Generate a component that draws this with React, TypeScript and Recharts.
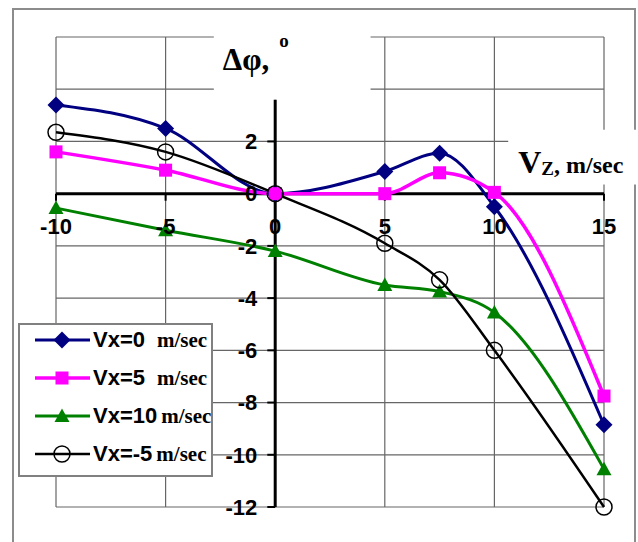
import {
  LineChart,
  Line,
  XAxis,
  YAxis,
  CartesianGrid,
  ReferenceLine,
  ReferenceArea,
  Legend,
} from 'recharts'

// Vz, m/sec
const VZ = [-10, -5, 0, 5, 7.5, 10, 15]
// Δφ, degrees, one list per Vx
const VX0 = [3.4, 2.5, 0, 0.85, 1.55, -0.5, -8.85]
const VX5 = [1.6, 0.9, 0, 0.0, 0.8, 0.05, -7.75]
const VX10 = [-0.55, -1.4, -2.2, -3.5, -3.75, -4.55, -10.55]
const VXM5 = [2.35, 1.6, 0, -1.9, -3.3, -6.0, -12.0]

const X_TICKS = [-10, -5, 0, 5, 10, 15]
const Y_GRID = [-12, -10, -8, -6, -4, -2, 0, 2, 4, 6]
const Y_LABELS = [-12, -10, -8, -6, -4, -2, 0, 2]

const data = VZ.map((vz, i) => ({
  vz,
  vx0: VX0[i],
  vx5: VX5[i],
  vx10: VX10[i],
  vxm5: VXM5[i],
}))

type Shape = 'diamond' | 'square' | 'triangle' | 'circle'

const SERIES: { key: string; name: string; gap: number; color: string; width: number; shape: Shape }[] = [
  { key: 'vx0', name: 'Vx=0', gap: 12, color: '#000080', width: 3, shape: 'diamond' },
  { key: 'vx5', name: 'Vx=5', gap: 12, color: '#ff00ff', width: 3.5, shape: 'square' },
  { key: 'vx10', name: 'Vx=10', gap: 4, color: '#008000', width: 3, shape: 'triangle' },
  { key: 'vxm5', name: 'Vx=-5', gap: 4, color: '#000000', width: 2.5, shape: 'circle' },
]

const SANS = '"Liberation Sans", Arial, sans-serif'
const SERIF = '"Liberation Serif", "Times New Roman", serif'
const tickFont = { fill: '#000', fontSize: 22, fontWeight: 700, fontFamily: SANS }

function Marker({ shape, cx, cy, color }: { shape: Shape; cx: number; cy: number; color: string }) {
  if (shape === 'diamond') {
    const s = 8.5
    return <polygon points={`${cx},${cy - s} ${cx + s},${cy} ${cx},${cy + s} ${cx - s},${cy}`} fill={color} />
  }
  if (shape === 'square') {
    return <rect x={cx - 6.5} y={cy - 6.5} width={13} height={13} fill={color} />
  }
  if (shape === 'triangle') {
    return <polygon points={`${cx},${cy - 7.5} ${cx + 7.5},${cy + 6} ${cx - 7.5},${cy + 6}`} fill={color} />
  }
  return <circle cx={cx} cy={cy} r={8} fill="none" stroke={color} strokeWidth={1.5} />
}

const renderDot = (shape: Shape, color: string) => (p: any) => (
  <Marker key={`${shape}-${p.index}`} shape={shape} cx={p.cx} cy={p.cy} color={color} />
)

// axis ticks are drawn at the origin below, so the side axes render empty ticks
const NoTick = () => <g />

const TitleLabel = ({ viewBox }: any) => {
  const { x, y, height } = viewBox
  return (
    <text x={x + 9} y={y + height - 30} fontFamily={SERIF} fontWeight={700} fontSize={31} fill="#000">
      Δφ,
      <tspan fontSize={19} dx={10} dy={-23}>
        o
      </tspan>
    </text>
  )
}

const AxisTitle = ({ viewBox }: any) => {
  const { x, y } = viewBox
  return (
    <text x={x + 10} y={y + 43} fontFamily={SERIF} fontWeight={700} fill="#000">
      <tspan fontSize={32}>V</tspan>
      <tspan fontSize={19} dy={2}>Z</tspan>
      <tspan fontSize={24} dy={-2}>, m/sec</tspan>
    </text>
  )
}

const renderLegend = () => (
  <div
    style={{
      position: 'relative',
      width: 195,
      height: 154,
      boxSizing: 'border-box',
      border: '2px solid #808080',
      background: '#fff',
    }}
  >
    {SERIES.map((s, i) => (
      <div
        key={s.key}
        style={{
          position: 'absolute',
          left: 0,
          top: -4 + i * 38,
          height: 38,
          display: 'flex',
          alignItems: 'center',
          whiteSpace: 'nowrap',
        }}
      >
        <svg width={73} height={30} style={{ display: 'block' }}>
          <line x1={15} x2={70} y1={15} y2={15} stroke={s.color} strokeWidth={s.width} />
          <Marker shape={s.shape} cx={42} cy={15} color={s.color} />
        </svg>
        <span style={{ fontFamily: SANS, fontWeight: 700, fontSize: 22 }}>{s.name}</span>
        <span style={{ fontFamily: SERIF, fontWeight: 700, fontSize: 21, marginLeft: s.gap }}>m/sec</span>
      </div>
    ))}
  </div>
)

export default function App() {
  return (
    <div
      style={{
        position: 'absolute',
        left: 0,
        top: 0,
        width: 638,
        height: 542,
        overflow: 'hidden',
        background: '#fff',
      }}
    >
      <div
        style={{
          position: 'absolute',
          left: 12,
          top: 8,
          width: 624,
          height: 600,
          border: '2px solid #8c8c8c',
          boxSizing: 'border-box',
        }}
      />
      <div style={{ position: 'absolute', left: 0, top: 0 }}>
        <LineChart
          width={638}
          height={542}
          data={data}
          margin={{ top: 37, right: 34, bottom: 34, left: 55 }}
        >
          <CartesianGrid stroke="#666" strokeWidth={1.2} />
          <XAxis
            dataKey="vz"
            type="number"
            domain={[-10, 15]}
            ticks={X_TICKS}
            interval={0}
            height={1}
            axisLine={false}
            tickLine={false}
            tick={NoTick}
          />
          <YAxis
            type="number"
            domain={[-12, 6]}
            ticks={Y_GRID}
            interval={0}
            width={1}
            axisLine={false}
            tickLine={false}
            tick={NoTick}
          />

          {/* white boxes behind the axis titles */}
          <ReferenceArea
            x1={-2.8}
            x2={4.35}
            y1={3.6}
            y2={6.6}
            fill="#fff"
            fillOpacity={1}
            stroke="none"
            ifOverflow="visible"
            label={TitleLabel}
          />
          <ReferenceArea
            x1={10.63}
            x2={16.6}
            y1={0.35}
            y2={2.45}
            fill="#fff"
            fillOpacity={1}
            stroke="none"
            ifOverflow="visible"
            label={AxisTitle}
          />

          {/* axes crossing at the origin */}
          <ReferenceLine segment={[{ x: -10, y: 0 }, { x: 15, y: 0 }]} stroke="#000" strokeWidth={3} />
          <ReferenceLine segment={[{ x: 0, y: 3.6 }, { x: 0, y: -12 }]} stroke="#000" strokeWidth={3} />

          {X_TICKS.map((v) => (
            <ReferenceLine
              key={`xt${v}`}
              segment={[{ x: v, y: 0 }, { x: v, y: -0.27 }]}
              stroke="#000"
              strokeWidth={2}
              label={{ value: String(v), position: 'bottom', offset: 18, ...tickFont }}
            />
          ))}
          {Y_LABELS.map((v) => (
            <ReferenceLine
              key={`yt${v}`}
              segment={[{ x: -0.36, y: v }, { x: 0, y: v }]}
              stroke="#000"
              strokeWidth={2}
              label={{ value: String(v), position: 'left', offset: 10, ...tickFont }}
            />
          ))}

          {SERIES.map((s) => (
            <Line
              key={s.key}
              dataKey={s.key}
              name={s.name}
              type="monotone"
              stroke={s.color}
              strokeWidth={s.width}
              dot={renderDot(s.shape, s.color)}
              activeDot={false}
              isAnimationActive={false}
            />
          ))}

          <Legend
            layout="vertical"
            align="center"
            verticalAlign="middle"
            content={renderLegend}
            wrapperStyle={{ left: 18, top: 323, width: 195, height: 154 }}
          />
        </LineChart>
      </div>
    </div>
  )
}
